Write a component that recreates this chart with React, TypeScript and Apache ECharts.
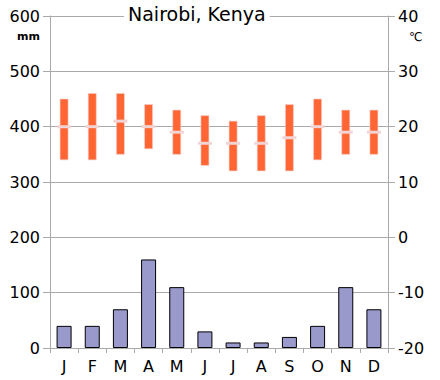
import React, { useEffect, useRef } from "react";
import * as echarts from "echarts";

const months = ["J", "F", "M", "A", "M", "J", "J", "A", "S", "O", "N", "D"];
const precipitation = [40, 40, 70, 160, 110, 30, 10, 10, 20, 40, 110, 70];
const tempHigh = [25, 26, 26, 24, 23, 22, 21, 22, 24, 25, 23, 23];
const tempLow = [14, 14, 15, 16, 15, 13, 12, 12, 12, 14, 15, 15];
const tempMean = [20, 20, 21, 20, 19, 17, 17, 17, 18, 20, 19, 19];
const title = "Nairobi, Kenya";

const FONT = "DejaVu Sans";

export default function App() {
  const ref = useRef<HTMLDivElement>(null);
  useEffect(() => {
    if (!ref.current) return;
    const chart = echarts.init(ref.current, null, { renderer: "svg" });
    const tempData = months.map((_, i) => [i, tempLow[i], tempHigh[i], tempMean[i]]);
    chart.setOption({
      animation: false,
      backgroundColor: "#fff",
      textStyle: { fontFamily: FONT },
      title: {
        text: title,
        left: 124,
        top: 4,
        padding: [0, 4],
        backgroundColor: "#fff",
        textStyle: { fontFamily: FONT, fontSize: 19, fontWeight: "normal", color: "#000" },
      },
      grid: { left: 50, right: 52, top: 16, bottom: 32 },
      xAxis: {
        type: "category",
        data: months,
        boundaryGap: true,
        axisLine: { lineStyle: { color: "#aaa" } },
        axisTick: { show: true, length: 5, lineStyle: { color: "#aaa" } },
        axisLabel: { color: "#000", fontSize: 16, fontFamily: FONT, margin: 10 },
      },
      yAxis: [
        {
          type: "value",
          min: 0,
          max: 600,
          interval: 100,
          axisLine: { show: true, lineStyle: { color: "#aaa" } },
          axisTick: { show: true, length: 7, lineStyle: { color: "#aaa" } },
          axisLabel: { color: "#000", fontSize: 16, fontFamily: FONT, margin: 10 },
          splitLine: { lineStyle: { color: "#aaa" } },
        },
        {
          type: "value",
          min: -20,
          max: 40,
          interval: 10,
          position: "right",
          axisLine: { show: true, lineStyle: { color: "#aaa" } },
          axisTick: { show: true, length: 7, lineStyle: { color: "#aaa" } },
          axisLabel: { color: "#000", fontSize: 16, fontFamily: FONT, margin: 10 },
          splitLine: { show: false },
        },
      ],
      graphic: [
        {
          type: "text",
          left: 17,
          top: 31,
          style: { text: "mm", font: `bold 11px "${FONT}"`, fill: "#000" },
        },
        {
          type: "text",
          left: 409,
          top: 31,
          style: { text: "℃", font: `12px "${FONT}"`, fill: "#000" },
        },
      ],
      series: [
        {
          type: "bar",
          data: precipitation,
          yAxisIndex: 0,
          barWidth: 15,
          itemStyle: { color: "#9999cc", borderColor: "#000", borderWidth: 1 },
          z: 2,
        },
        {
          type: "custom",
          yAxisIndex: 1,
          data: tempData,
          z: 3,
          renderItem: (params: any, api: any) => {
            const idx = api.value(0);
            const hi = api.coord([idx, api.value(2)]);
            const lo = api.coord([idx, api.value(1)]);
            const mn = api.coord([idx, api.value(3)]);
            const w = 8;
            const mw = 14;
            return {
              type: "group",
              children: [
                {
                  type: "rect",
                  shape: { x: hi[0] - w / 2, y: hi[1], width: w, height: lo[1] - hi[1] },
                  style: { fill: "#ff6633", stroke: "#f4cccc", lineWidth: 0.6 },
                },
                {
                  type: "rect",
                  shape: { x: mn[0] - mw / 2, y: mn[1] - 1.5, width: mw, height: 3 },
                  style: { fill: "#f2d4d4" },
                },
              ],
            };
          },
        },
      ],
    });
    return () => chart.dispose();
  }, []);
  return <div ref={ref} style={{ width: 440, height: 380, position: "absolute", left: 0, top: 0 }} />;
}
